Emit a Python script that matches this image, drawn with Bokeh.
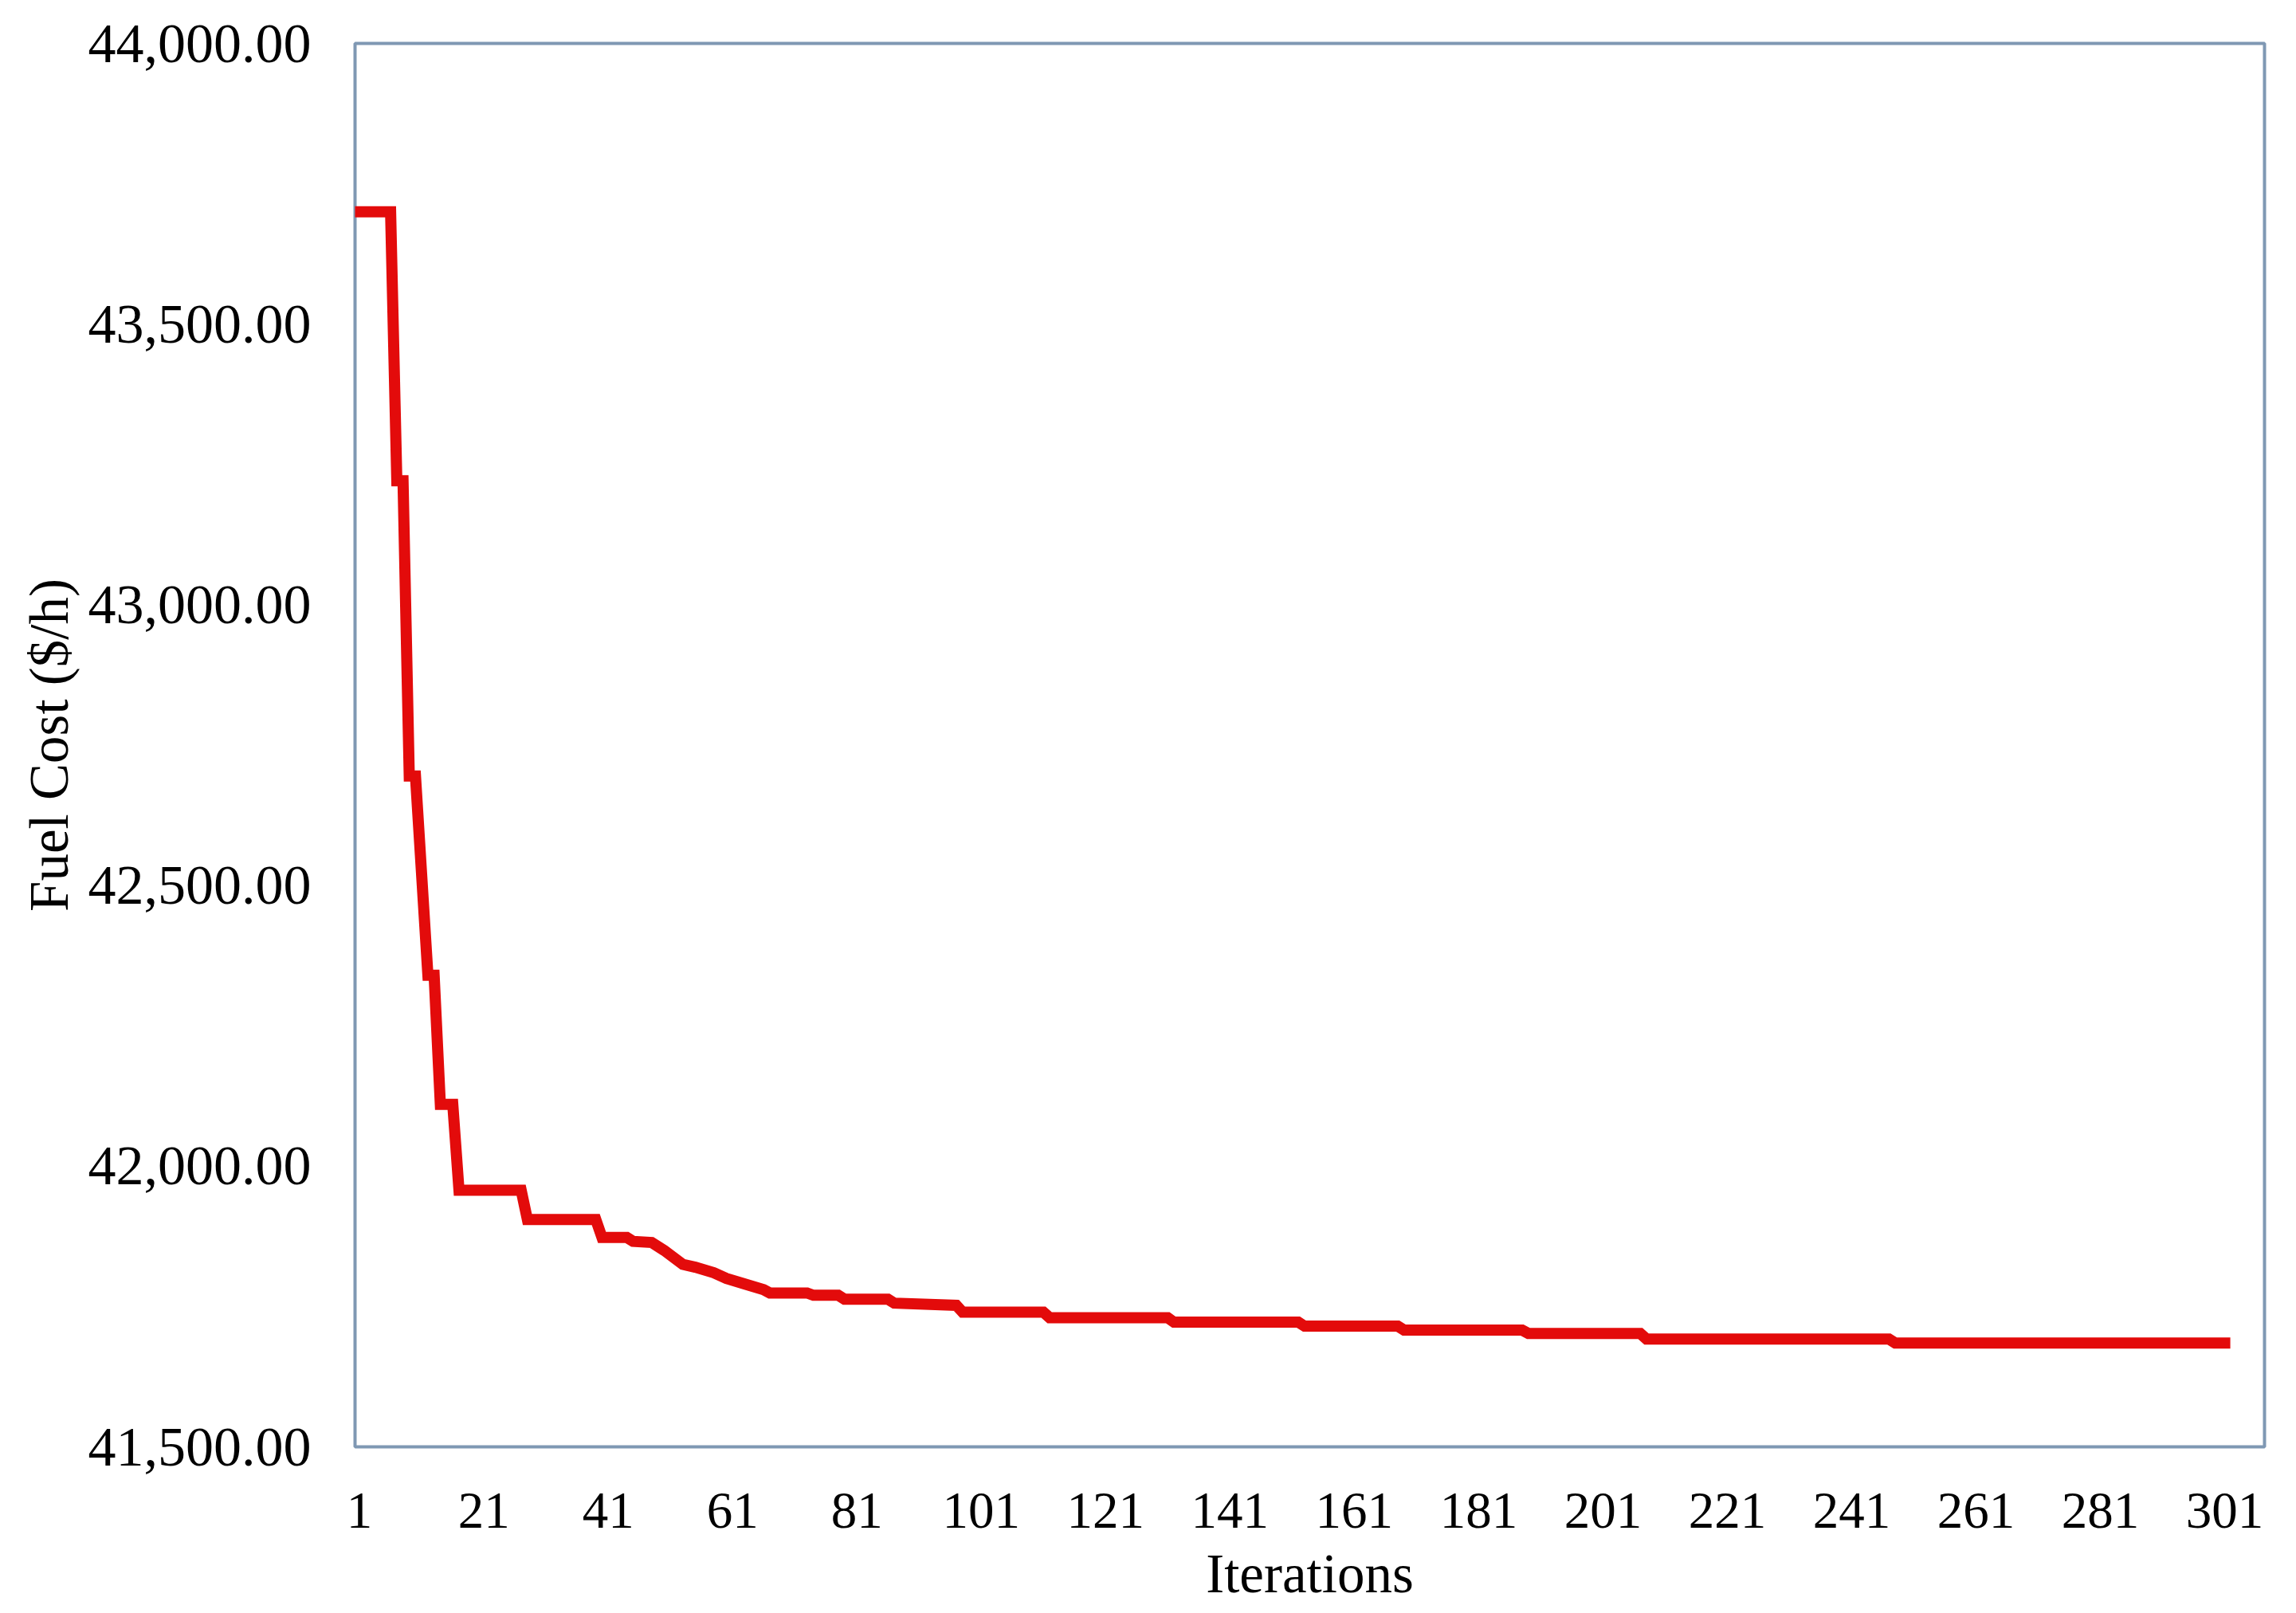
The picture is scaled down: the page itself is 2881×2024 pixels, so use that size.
from bokeh.plotting import figure
from bokeh.models import FixedTicker, NumeralTickFormatter, Range1d
from bokeh.embed import file_html
from bokeh.resources import INLINE

# Convergence curve (iteration, fuel cost $/h) at the points where it changes
iterations = [1, 6, 7, 8, 9, 10, 12, 13, 14, 16, 17, 27, 28, 39, 40, 44, 45, 48, 50, 53,
              55, 58, 60, 63, 66, 67, 73, 74, 78, 79, 86, 87, 97, 98, 111, 112, 131, 132,
              152, 153, 168, 169, 188, 189, 207, 208, 247, 248, 301]
fuel_cost = [43700, 43700, 43221, 43221, 42695, 42695, 42340, 42340, 42110, 42110, 41957,
             41957, 41905, 41905, 41873, 41873, 41866, 41864, 41850, 41825, 41820, 41810,
             41800, 41790, 41780, 41774, 41774, 41770, 41770, 41763, 41763, 41756, 41752,
             41740, 41740, 41730, 41730, 41722, 41722, 41715, 41715, 41708, 41708, 41702,
             41702, 41692, 41692, 41685, 41685]

x_ticks = [1, 21, 41, 61, 81, 101, 121, 141, 161, 181, 201, 221, 241, 261, 281, 301]
y_ticks = [41500, 42000, 42500, 43000, 43500, 44000]

FONT = "Liberation Serif"

p = figure(width=2870, height=2024, output_backend="svg", toolbar_location=None,
           x_range=Range1d(0.28, 307.4), y_range=Range1d(41500, 44000),
           min_border_left=445, min_border_right=29, min_border_top=54,
           min_border_bottom=209)

p.line(iterations, fuel_cost, line_color="#e30b0b", line_width=14,
       line_join="miter", line_cap="square")

p.xgrid.visible = False
p.ygrid.visible = False
p.background_fill_color = "white"
p.border_fill_color = "white"
p.outline_line_color = "#7f98b3"
p.outline_line_width = 4

for ax in (p.xaxis[0], p.yaxis[0]):
    ax.axis_line_color = None
    ax.major_tick_line_color = None
    ax.minor_tick_line_color = None
    ax.major_tick_out = 0
    ax.major_tick_in = 0
    ax.minor_tick_out = 0
    ax.major_label_text_font = FONT
    ax.major_label_text_color = "black"
    ax.axis_label_text_font = FONT
    ax.axis_label_text_font_style = "normal"
    ax.axis_label_text_color = "black"
    ax.axis_label_text_font_size = "69px"

p.xaxis.ticker = FixedTicker(ticks=x_ticks)
p.yaxis.ticker = FixedTicker(ticks=y_ticks)
p.yaxis.formatter = NumeralTickFormatter(format="0,0.00")

p.xaxis.major_label_text_font_size = "65px"
p.yaxis.major_label_text_font_size = "70px"
p.xaxis.major_label_standoff = 58
p.yaxis.major_label_standoff = 55
p.xaxis.axis_label = "Iterations"
p.yaxis.axis_label = "Fuel Cost ($/h)"
p.xaxis.axis_label_standoff = 17
p.yaxis.axis_label_standoff = 8

open("out.html", "w").write(file_html(p, INLINE))
